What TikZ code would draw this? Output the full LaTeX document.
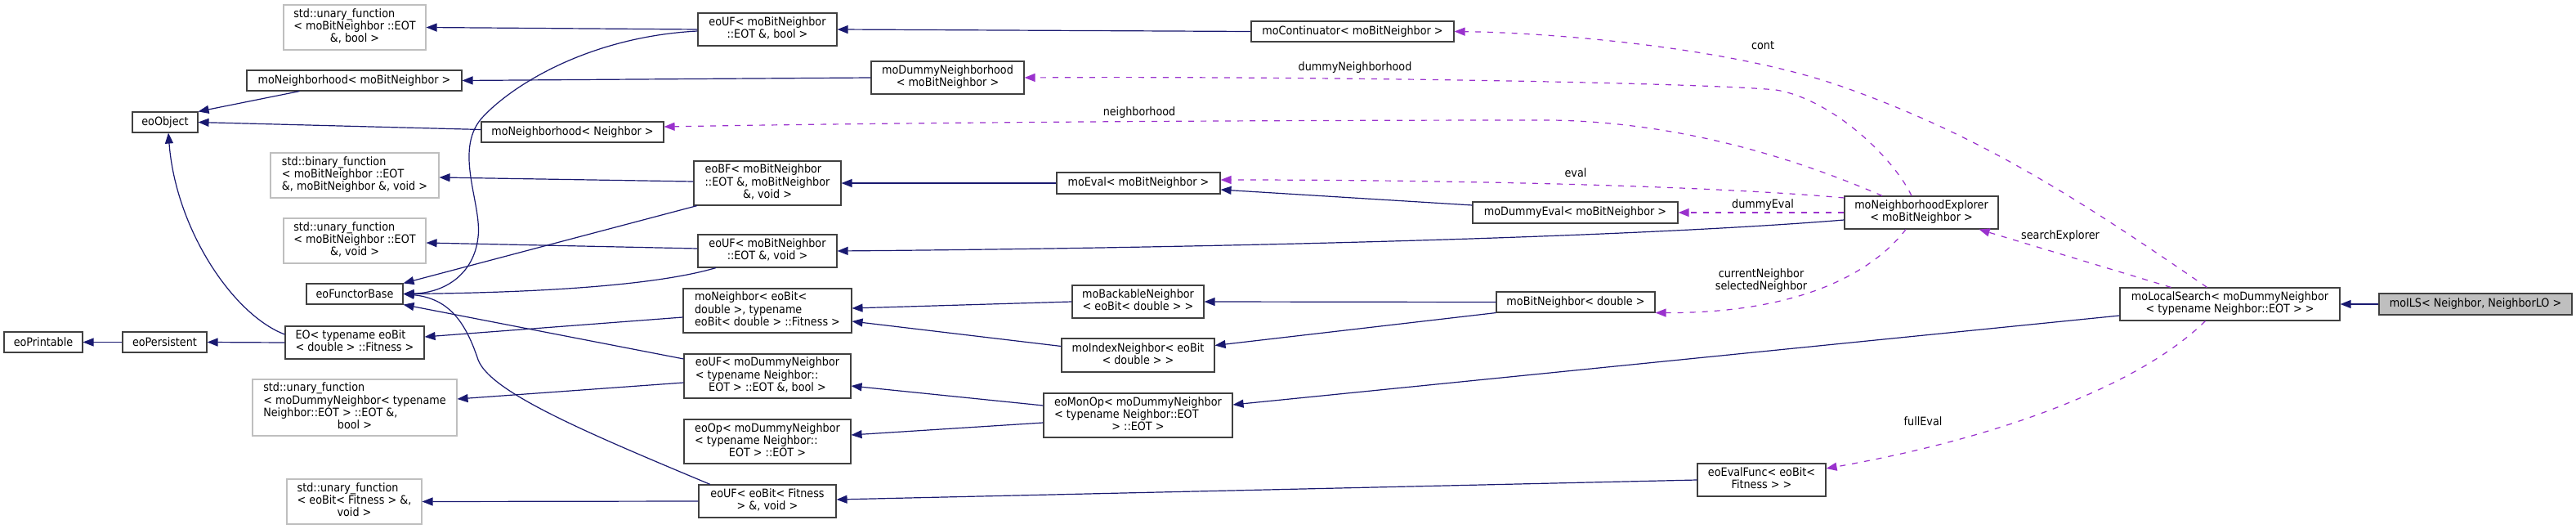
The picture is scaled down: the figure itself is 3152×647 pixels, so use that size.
\documentclass[tikz,border=0pt]{standalone}
\usepackage{fontspec}
\setmainfont{DejaVu Sans}[FakeStretch=0.9]
\usetikzlibrary{arrows.meta,calc}
\definecolor{inhc}{HTML}{191970}
\definecolor{usec}{HTML}{9A32CD}
\definecolor{boxc}{HTML}{404040}
\definecolor{extc}{HTML}{BFBFBF}
\newcommand{\dl}[2]{\begin{tabular}{@{}l@{}}#1\\\multicolumn{1}{@{}c@{}}{#2}\end{tabular}}
\begin{document}
\begin{tikzpicture}[x=1pt,y=-1pt,font=\fontsize{14.2}{14.7}\selectfont,
  cls/.style={draw=boxc,line width=1.1pt,fill=white,inner sep=0pt,text=black},
  ext/.style={draw=extc,line width=1.1pt,fill=white,inner sep=0pt,text=black},
  hl/.style={draw=boxc,line width=1.1pt,fill=extc,inner sep=0pt,text=black},
  inh/.style={draw=inhc,line width=1.2pt,-{Triangle[length=13pt,width=10pt]}},
  use/.style={draw=usec,line width=1.2pt,dash pattern=on 7pt off 8pt,-{Triangle[length=13pt,width=10pt]}},
  lbl/.style={inner sep=0pt,text=black}]
\useasboundingbox (0,0) rectangle (3152,647);
\fill[white] (0,0) rectangle (3152,647);

% column 1
\node[ext, minimum width=174pt, minimum height=55pt] (uf1) at (434,33.5) {\dl{std::unary\_function\\< moBitNeighbor ::EOT}{\&, bool >}};
\node[cls, minimum width=263pt, minimum height=25pt] (nbh1) at (433.5,98.5) {moNeighborhood< moBitNeighbor >};
\node[cls, minimum width=80pt, minimum height=25pt] (obj) at (202,149.5) {eoObject};
\node[cls, minimum width=223pt, minimum height=25pt] (nbh2) at (700.5,161.5) {moNeighborhood< Neighbor >};
\node[ext, minimum width=206pt, minimum height=55pt] (bf) at (434,214.5) {\dl{std::binary\_function\\< moBitNeighbor ::EOT}{\&, moBitNeighbor \&, void >}};
\node[ext, minimum width=174pt, minimum height=55pt] (uf2) at (434,294.5) {\dl{std::unary\_function\\< moBitNeighbor ::EOT}{\&, void >}};
\node[cls, minimum width=118pt, minimum height=25pt] (fb) at (434,359.5) {eoFunctorBase};
\node[cls, minimum width=170pt, minimum height=40pt] (eo) at (434,419) {\dl{EO< typename eoBit}{< double > ::Fitness >}};
\node[cls, minimum width=96pt, minimum height=25pt] (prt) at (53,418.5) {eoPrintable};
\node[cls, minimum width=103pt, minimum height=25pt] (pers) at (201.5,418.5) {eoPersistent};
\node[ext, minimum width=250pt, minimum height=69pt] (uf3) at (434,498.5) {\dl{std::unary\_function\\< moDummyNeighbor< typename\\ Neighbor::EOT > ::EOT \&,}{bool >}};
\node[ext, minimum width=165pt, minimum height=55pt] (uf4) at (433.5,613.5) {\dl{std::unary\_function\\< eoBit< Fitness > \&,}{void >}};

% column 2
\node[cls, minimum width=170pt, minimum height=40pt] (ufb) at (939,36) {\dl{eoUF< moBitNeighbor}{::EOT \&, bool >}};
\node[cls, minimum width=187pt, minimum height=40pt] (dnbh) at (1159.5,95) {\dl{moDummyNeighborhood}{< moBitNeighbor >}};
\node[cls, minimum width=180pt, minimum height=54pt] (ebf) at (939,224) {\dl{eoBF< moBitNeighbor\\ ::EOT \&, moBitNeighbor}{\&, void >}};
\node[cls, minimum width=170pt, minimum height=40pt] (ufv) at (939,307) {\dl{eoUF< moBitNeighbor}{::EOT \&, void >}};
\node[cls, minimum width=206pt, minimum height=54pt] (mon) at (939,380) {\dl{moNeighbor< eoBit<\\ double >, typename}{eoBit< double > ::Fitness >}};
\node[cls, minimum width=204pt, minimum height=54pt] (ufd) at (939,460) {\dl{eoUF< moDummyNeighbor\\< typename Neighbor::}{EOT > ::EOT \&, bool >}};
\node[cls, minimum width=204pt, minimum height=54pt] (eop) at (939,540) {\dl{eoOp< moDummyNeighbor\\< typename Neighbor::}{EOT > ::EOT >}};
\node[cls, minimum width=168pt, minimum height=40pt] (uff) at (939,613) {\dl{eoUF< eoBit< Fitness}{> \&, void >}};

% column 3+
\node[cls, minimum width=248pt, minimum height=25pt] (cont) at (1655,38.5) {moContinuator< moBitNeighbor >};
\node[cls, minimum width=200pt, minimum height=26pt] (eval) at (1393,224) {moEval< moBitNeighbor >};
\node[cls, minimum width=251pt, minimum height=26pt] (deval) at (1927.5,260) {moDummyEval< moBitNeighbor >};
\node[cls, minimum width=161pt, minimum height=40pt] (back) at (1392.5,369) {\dl{moBackableNeighbor}{< eoBit< double > >}};
\node[cls, minimum width=187pt, minimum height=41pt] (idx) at (1392.5,434.5) {\dl{moIndexNeighbor< eoBit}{< double > >}};
\node[cls, minimum width=231pt, minimum height=54pt] (monop) at (1392.5,508) {\dl{eoMonOp< moDummyNeighbor\\< typename Neighbor::EOT}{> ::EOT >}};
\node[cls, minimum width=194pt, minimum height=25pt] (bitn) at (1928,369.5) {moBitNeighbor< double >};
\node[cls, minimum width=188pt, minimum height=40pt] (nexp) at (2351,260) {\dl{moNeighborhoodExplorer}{< moBitNeighbor >}};
\node[cls, minimum width=157pt, minimum height=40pt] (efun) at (2155.5,587) {\dl{eoEvalFunc< eoBit<}{Fitness > >}};
\node[cls, minimum width=269pt, minimum height=40pt] (ls) at (2728.5,372) {\dl{moLocalSearch< moDummyNeighbor}{< typename Neighbor::EOT > >}};
\node[hl, minimum width=236pt, minimum height=26pt] (ils) at (3029,372) {moILS< Neighbor, NeighborLO >};

% inheritance
\draw[inh] (pers.west) -- (prt.east);
\draw[inh] (eo.west) -- (pers.east);
\draw[inh] ([yshift=10pt]eo.west) .. controls (285,385) and (215,280) .. ([xshift=4pt]obj.south);
\draw[inh] ([xshift=-67pt]nbh1.south) -- (obj.north east);
\draw[inh] ([yshift=3pt]nbh2.west) -- (obj.east);
\draw[inh] (ufb.west) -- (uf1.east);
\draw[inh] ([yshift=-2pt]ufb.west) .. controls (720,45) and (625,105) .. (589,145) .. controls (555,185) and (590,250) .. (585,290) .. controls (580,335) and (545,358) .. (fb.east);
\draw[inh] (dnbh.west) -- (nbh1.east);
\draw[inh] (cont.west) -- (ufb.east);
\draw[inh] ([yshift=2pt]ebf.west) -- ([yshift=-2.5pt]bf.east);
\draw[inh] ([xshift=-86pt]ebf.south) -- (fb.north east);
\draw[inh] (eval.west) -- (ebf.east);
\draw[inh] ([yshift=3pt]ufv.west) -- ([yshift=-2.5pt]uf2.east);
\draw[inh] ([xshift=-63pt]ufv.south) .. controls (800,350) and (650,358) .. (fb.east);
\draw[inh] ([yshift=-9pt]nexp.west) .. controls (2000,290) and (1500,303) .. (ufv.east);
\draw[inh] ([yshift=9pt]deval.west) -- ([yshift=-8pt]eval.east);
\draw[inh] ([yshift=-8pt]mon.west) -- ([yshift=7pt]eo.east);
\draw[inh] (back.west) -- ([yshift=3pt]mon.east);
\draw[inh] ([yshift=11pt]idx.west) -- ([yshift=-13pt]mon.east);
\draw[inh] (bitn.west) -- (back.east);
\draw[inh] (bitn.south west) -- ([yshift=12pt]idx.east);
\draw[inh] ([yshift=-8pt]ufd.west) -- ([yshift=10.5pt]uf3.east);
\draw[inh] ([yshift=21pt]ufd.west) -- (fb.south east);
\draw[inh] ([yshift=12pt]monop.west) -- ([yshift=-12pt]ufd.east);
\draw[inh] ([yshift=-9pt]monop.west) -- ([yshift=8pt]eop.east);
\draw[inh] ([yshift=-14pt]ls.west) -- ([yshift=13pt]monop.east);
\draw[inh] (uff.west) -- (uf4.east);
\draw[inh] ([xshift=-70pt]uff.north) .. controls (720,530) and (600,480) .. (585,440) .. controls (570,395) and (550,365) .. (fb.east);
\draw[inh] (efun.west) -- ([yshift=2pt]uff.east);
\draw[inh] (ils.west) -- (ls.east);

% usage
\draw[use] ([xshift=-28pt]ls.north) .. controls (2550,248) and (2427,167) .. (2257,107) .. controls (2120,58) and (1900,40) .. (cont.east);
\draw[use] ([xshift=-12pt]nexp.north) .. controls (2315,190) and (2240,121) .. (2173,110) .. controls (2080,101) and (1600,93) .. (dnbh.east);
\draw[use] ([xshift=-48pt]nexp.north) .. controls (2200,195) and (2060,150) .. (1900,147) .. controls (1500,147) and (1100,150) .. ([yshift=6.5pt]nbh2.east);
\draw[use] ([yshift=18pt]nexp.west) .. controls (2100,228) and (1800,220) .. ([yshift=4pt]eval.east);
\draw[use] (nexp.west) -- (deval.east);
\draw[use] ([xshift=-19pt]nexp.south) .. controls (2290,335) and (2200,383) .. (bitn.south east);
\draw[use] ([xshift=-72pt]ls.north) -- ([xshift=-24pt]nexp.south east);
\draw[use] ([xshift=-30pt]ls.south) .. controls (2620,470) and (2450,535) .. ([yshift=14pt]efun.east);

% labels
\node[lbl] (lcont) at (2157,56) {cont};
\node[lbl] (ldn) at (1658,83) {dummyNeighborhood};
\node[lbl] (lnb) at (1394,138) {neighborhood};
\node[lbl] (lev) at (1928,211) {eval};
\node[lbl] (lde) at (2157,251) {dummyEval};
\node[lbl, align=center] (lcn) at (2155,343) {currentNeighbor\\selectedNeighbor};
\node[lbl] (lse) at (2521,289) {searchExplorer};
\node[lbl] (lfe) at (2353,515) {fullEval};
\end{tikzpicture}
\end{document}
